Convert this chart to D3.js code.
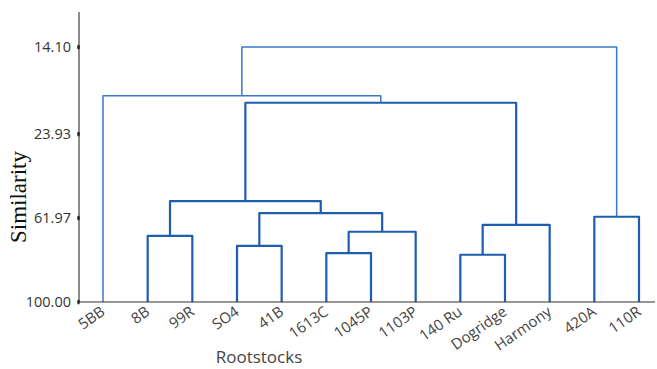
<!DOCTYPE html>
<html>
<head>
<meta charset="utf-8">
<script src="https://cdn.jsdelivr.net/npm/d3@7"></script>
<style>
  body { margin: 0; background: #fff; }
  svg { display: block; }
</style>
</head>
<body>
<svg id="chart" width="657" height="369"></svg>
<script>
// leaves in drawing order
var leaves = ["5BB", "8B", "99R", "SO4", "41B", "1613C", "1045P", "1103P", "140 Ru", "Dogridge", "Harmony", "420A", "110R"];
var tickValues = [14.10, 23.93, 61.97, 100.00];
// merge list: [left, right, similarity], "#k" = k-th merge
var merges = [
  ["8B", "99R", 70.1],
  ["SO4", "41B", 74.6],
  ["1613C", "1045P", 77.9],
  ["#2", "1103P", 68.2],
  ["#1", "#3", 59.8],
  ["#0", "#4", 54.3],
  ["140 Ru", "Dogridge", 78.6],
  ["#6", "Harmony", 65.1],
  ["420A", "110R", 61.4],
  ["#5", "#7", 20.4],
  ["5BB", "#9", 19.6],
  ["#10", "#8", 14.1]
];

var svg = d3.select("#chart");
var left = 79, bottom = 302;

var x = d3.scalePoint().domain(leaves).range([103, 639]);
// the axis is not linear, so pin each tick label
var y = d3.scaleLinear().domain(tickValues).range([47, 134, 218, 302]);

var nodes = [];
function pos(ref) {
  if (ref[0] == "#") return nodes[+ref.slice(1)];
  return { x: x(ref), h: 100 };
}
merges.forEach(function(m) {
  var a = pos(m[0]), b = pos(m[1]);
  nodes.push({ x: (a.x + b.x) / 2, h: m[2], a: a, b: b });
});

svg.append("g").selectAll("path")
  .data(nodes)
  .enter().append("path")
  .attr("fill", "none")
  .attr("stroke", function(d) { return d.h < 20 ? "#3a78c6" : "#1d5eb0"; })
  .attr("stroke-width", function(d) { return d.h < 20 ? 1.5 : 2.2; })
  .attr("stroke-linejoin", "round")
  .attr("d", function(d) {
    return "M" + d.a.x + "," + y(d.a.h) + "V" + y(d.h) + "H" + d.b.x + "V" + y(d.b.h);
  });

// axes
svg.append("line").attr("x1", left).attr("x2", left).attr("y1", 12).attr("y2", bottom)
  .attr("stroke", "#666").attr("stroke-width", 1.5);
svg.append("line").attr("x1", left).attr("x2", 655).attr("y1", bottom).attr("y2", bottom)
  .attr("stroke", "#333").attr("stroke-width", 1.2);

var ticks = svg.append("g").selectAll("g").data(tickValues).enter().append("g");
ticks.append("ellipse")
  .attr("cx", left - 0.5).attr("cy", function(d) { return y(d); })
  .attr("rx", 1.3).attr("ry", 2.6).attr("fill", "#222");
ticks.append("text")
  .attr("x", 71).attr("y", function(d) { return y(d) + 5; })
  .attr("text-anchor", "end")
  .style("font", "14.5px 'Open Sans', sans-serif").style("fill", "#333")
  .text(function(d) { return d.toFixed(2); });

svg.append("g").selectAll("text")
  .data(leaves)
  .enter().append("text")
  .attr("transform", function(d) { return "translate(" + (x(d) + 3) + ",314) rotate(-35)"; })
  .attr("text-anchor", "end")
  .style("font", "15px 'Open Sans', sans-serif").style("fill", "#444")
  .text(function(d) { return d; });

svg.append("text")
  .attr("transform", "translate(26,197) rotate(-90)")
  .attr("text-anchor", "middle")
  .style("font", "23px 'Liberation Serif', serif").style("fill", "#111")
  .text("Similarity");

svg.append("text")
  .attr("x", 259).attr("y", 363)
  .attr("text-anchor", "middle")
  .style("font", "17px 'Open Sans', sans-serif").style("fill", "#444")
  .text("Rootstocks");
</script>
</body>
</html>
